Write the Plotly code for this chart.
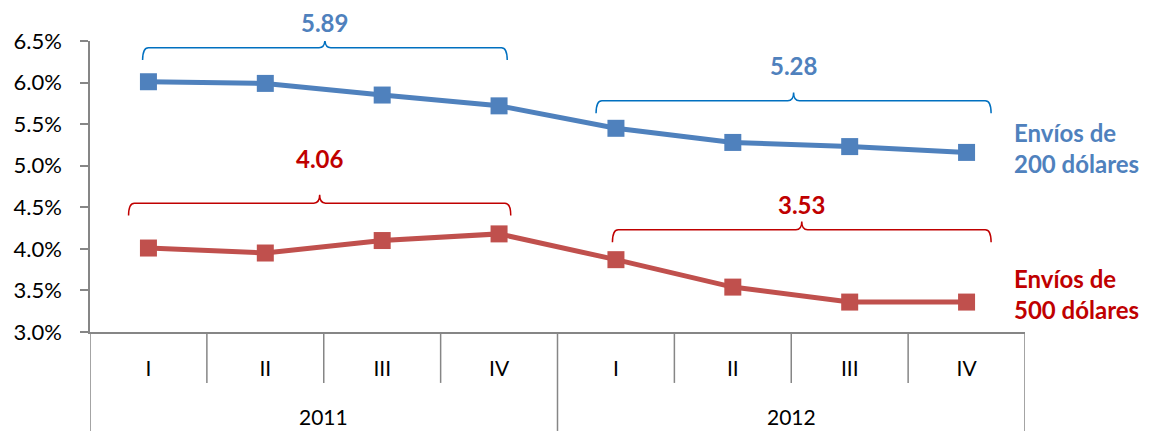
import plotly.graph_objects as go

# ── Data ─────────────────────────────────────────────────────────────────────
quarters = ["I", "II", "III", "IV", "I", "II", "III", "IV"]
years = ["2011", "2012"]
envios_200 = [6.01, 5.99, 5.85, 5.72, 5.45, 5.28, 5.23, 5.16]
envios_500 = [4.01, 3.95, 4.10, 4.18, 3.87, 3.54, 3.36, 3.36]
promedio_200 = [5.89, 5.28]
promedio_500 = [4.06, 3.53]

BLUE = "#4F81BD"
BLUE_BRACE = "#0070C0"
RED = "#C0504D"
RED_TXT = "#C00000"
AXIS = "#868686"
FONT = "Lato"

Y_MIN, Y_MAX = 3.0, 6.5
x_idx = list(range(len(quarters)))

fig = go.Figure()

fig.add_trace(go.Scatter(
    x=x_idx, y=envios_200, mode="lines+markers", name="Envíos de 200 dólares",
    line=dict(color=BLUE, width=5),
    marker=dict(symbol="square", size=17, color=BLUE),
))
fig.add_trace(go.Scatter(
    x=x_idx, y=envios_500, mode="lines+markers", name="Envíos de 500 dólares",
    line=dict(color=RED, width=5),
    marker=dict(symbol="square", size=17, color=RED),
))


# ── Curly braces over each year ──────────────────────────────────────────────
def brace_path(x0, x1, yh, drop=0.15, tip=0.1, rx=0.05):
    xm = (x0 + x1) / 2
    return (
        f"M {x0},{yh - drop} Q {x0},{yh} {x0 + rx},{yh} "
        f"L {xm - rx},{yh} Q {xm},{yh} {xm},{yh + tip} "
        f"Q {xm},{yh} {xm + rx},{yh} "
        f"L {x1 - rx},{yh} Q {x1},{yh} {x1},{yh - drop}"
    )


def to_paper(v):
    # annotations above the axis range are hidden in data coords
    return (v - Y_MIN) / (Y_MAX - Y_MIN)


# (x0, x1, brace height, label height) per group
braces_200 = [(-0.05, 3.07, 6.42, 6.72), (3.83, 7.21, 5.78, 6.21)]
braces_500 = [(-0.17, 3.10, 4.55, 5.09), (3.97, 7.21, 4.23, 4.53)]

for specs, vals, bcol, tcol in [
    (braces_200, promedio_200, BLUE_BRACE, BLUE),
    (braces_500, promedio_500, RED_TXT, RED_TXT),
]:
    for (x0, x1, yh, ylab), v in zip(specs, vals):
        fig.add_shape(type="path", path=brace_path(x0, x1, yh),
                      xref="x", yref="y", line=dict(color=bcol, width=1.5))
        fig.add_annotation(x=(x0 + x1) / 2, y=to_paper(ylab), xref="x", yref="paper",
                           text=f"<b>{v:.2f}</b>", showarrow=False,
                           yanchor="middle",
                           font=dict(family=FONT, size=24, color=tcol))

# series labels on the right
fig.add_annotation(x=7.39, y=to_paper(5.21), xref="x", yref="paper",
                   xanchor="left", yanchor="middle",
                   text="<b>Envíos de<br>200 dólares</b>", showarrow=False,
                   align="left", font=dict(family=FONT, size=24, color=BLUE))
fig.add_annotation(x=7.39, y=to_paper(3.46), xref="x", yref="paper",
                   xanchor="left", yanchor="middle",
                   text="<b>Envíos de<br>500 dólares</b>", showarrow=False,
                   align="left", font=dict(family=FONT, size=24, color=RED_TXT))

# ── Category separators and year labels ──────────────────────────────────────
n_per_year = len(quarters) // len(years)
for b in range(len(quarters) + 1):
    long_line = b % n_per_year == 0
    fig.add_shape(type="line", xref="x", yref="paper",
                  x0=b - 0.5, x1=b - 0.5, y0=0, y1=-0.34 if long_line else -0.175,
                  line=dict(color=AXIS, width=1.5))

for i, yr in enumerate(years):
    fig.add_annotation(x=i * n_per_year + (n_per_year - 1) / 2, y=-0.289,
                       xref="x", yref="paper", text=yr, showarrow=False,
                       yanchor="middle",
                       font=dict(family=FONT, size=21, color="#000000"))

# ── Layout ───────────────────────────────────────────────────────────────────
# page body adds an 8px offset, so the figure is 8px smaller on each side
fig.update_layout(
    width=1149, height=423,
    margin=dict(l=82, r=132, t=33, b=99),
    plot_bgcolor="white", paper_bgcolor="white",
    showlegend=False,
    xaxis=dict(
        range=[-0.5, 7.5], tickvals=x_idx, ticktext=quarters,
        showgrid=False, zeroline=False, ticks="",
        showline=True, linecolor=AXIS, linewidth=1.5,
        ticklabelstandoff=17, automargin=False,
        tickfont=dict(family=FONT, size=21, color="#000000"),
    ),
    yaxis=dict(
        range=[Y_MIN, Y_MAX], dtick=0.5, tickformat=".1f", ticksuffix="%",
        showgrid=False, zeroline=False,
        showline=True, linecolor=AXIS, linewidth=1.5,
        ticks="outside", ticklen=8, tickcolor=AXIS, tickwidth=1.5,
        ticklabelstandoff=14, automargin=False,
        tickfont=dict(family=FONT, size=22, color="#000000"),
    ),
)

fig.write_html("out.html")
